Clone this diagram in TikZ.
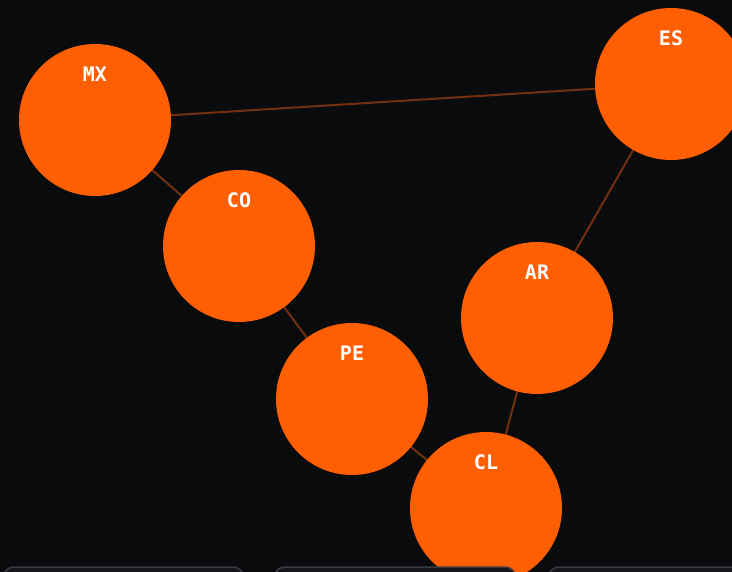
\documentclass[tikz,border=0pt]{standalone}
\usepackage{fontspec}
\setmonofont{DejaVu Sans Mono}
\definecolor{bg}{HTML}{0A0B0D}
\definecolor{nodeor}{HTML}{FF5F00}
\definecolor{edgec}{HTML}{72300E}
\definecolor{panelfill}{HTML}{16171B}
\definecolor{panelline}{HTML}{3A3B42}
\tikzset{
  country/.style={circle, fill=nodeor, minimum size=152pt, inner sep=0pt},
  lbl/.style={text=white, font=\ttfamily\bfseries\fontsize{20}{22}\selectfont, anchor=center},
  link/.style={draw=edgec, line width=2pt},
  panel/.style={fill=panelfill, draw=panelline, line width=1.5pt, rounded corners=11pt}
}
\begin{document}
\begin{tikzpicture}[x=1pt,y=-1pt]
\fill[bg] (0,0) rectangle (732,572);
\useasboundingbox (0,0) rectangle (732,572);
\coordinate (MX) at (95,120);
\coordinate (CO) at (239,246);
\coordinate (PE) at (352,399);
\coordinate (AR) at (537,318);
\coordinate (ES) at (671,84);
\coordinate (CL) at (486,508);
\draw[link] (MX) -- (ES);
\draw[link] (MX) -- (CO);
\draw[link] (CO) -- (PE);
\draw[link] (PE) -- (CL);
\draw[link] (CL) -- (AR);
\draw[link] (AR) -- (ES);
\foreach \n in {MX,CO,PE,AR,ES,CL} {\node[country] (c\n) at (\n) {};}
\node[lbl] (tMX) at (95,74) {MX};
\node[lbl] (tCO) at (239,200) {CO};
\node[lbl] (tPE) at (352,353) {PE};
\node[lbl] (tAR) at (537,272) {AR};
\node[lbl] (tES) at (671,38) {ES};
\node[lbl] (tCL) at (486,462) {CL};
\begin{scope}
\clip (0,0) rectangle (732,572);
\draw[panel] (3,567) rectangle (244,610);
\draw[panel] (274,567) rectangle (516,610);
\draw[panel] (548,567) rectangle (790,610);
\end{scope}
\end{tikzpicture}
\end{document}
